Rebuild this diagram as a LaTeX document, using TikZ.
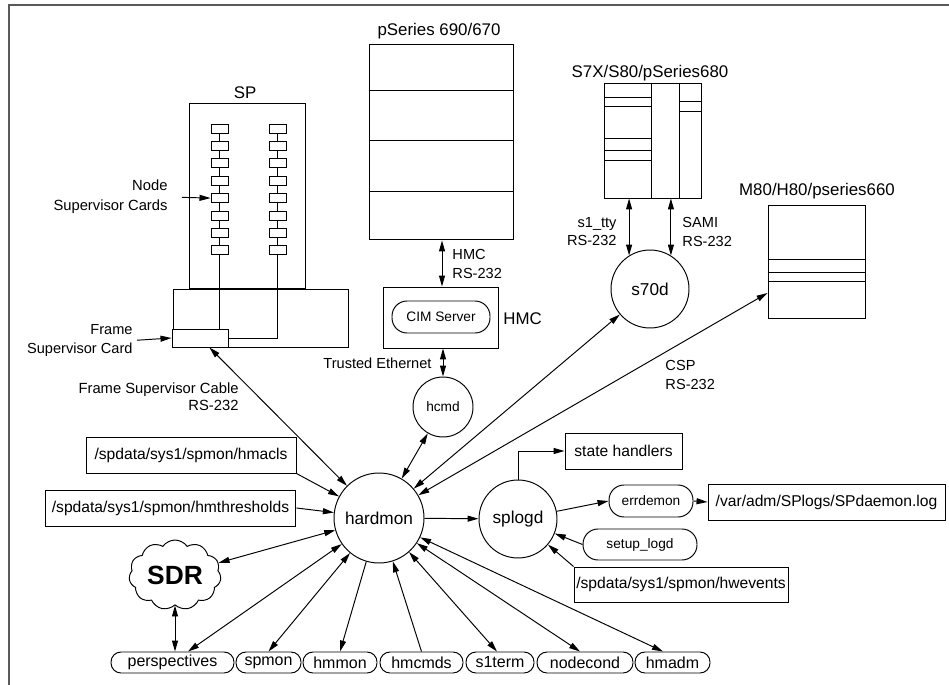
\documentclass[tikz,border=0pt]{standalone}
\usepackage{fontspec}
\setmainfont{Liberation Sans}
\usetikzlibrary{arrows.meta,shapes.symbols}

\begin{document}
\begin{tikzpicture}[x=0.02cm,y=-0.02cm,line width=0.55pt,
	>={Triangle[length=2.2mm,width=1.2mm]},
	box/.style={draw,rectangle,inner sep=0,font=\fontsize{8.9}{10}\selectfont},
	pill/.style={draw,rectangle,rounded corners=0.2cm,inner sep=0,minimum height=0.42cm,font=\fontsize{9.1}{10}\selectfont},
	tag/.style={draw,rectangle,rounded corners=0.3cm,inner sep=0,font=\fontsize{7.8}{9}\selectfont},
	daemon/.style={draw,circle,inner sep=0,font=\fontsize{9.8}{11}\selectfont},
	ttl/.style={inner sep=0,font=\fontsize{9.6}{11}\selectfont},
	lbl/.style={inner sep=0,font=\fontsize{8.3}{10.3}\selectfont},
	card/.style={draw,fill=white,rectangle,inner sep=0,minimum width=0.34cm,minimum height=0.18cm}]

	\useasboundingbox (0,0) rectangle (949,685);
	\draw[gray!70!black,line width=1.1pt] (949,5) -- (9,5) -- (9,685);

	% SP frame
	\node[ttl] (sptitle) at (245,93) {SP};
	\node[box,minimum width=2.32cm,minimum height=3.72cm] (spbox) at (247,196) {};
	\node[box,minimum width=3.5cm,minimum height=1.16cm] (frame) at (260.5,318) {};
	\node[box,fill=white,minimum width=1.12cm,minimum height=0.36cm] (fsc) at (200,338) {};
	\foreach \i in {1,...,8} {
		\node[card] (l\i) at (219.5,{128.5+17.4*(\i-1)}) {};
		\node[card] (r\i) at (277.5,{128.5+17.4*(\i-1)}) {};
	}
	\foreach \i [count=\j from 2] in {1,...,7} {
		\draw (l\i) -- (l\j);
		\draw (r\i) -- (r\j);
	}
	\draw (l8) -- (l8 |- fsc.north);
	\draw (r8) |- (fsc.east);

	\node[lbl,align=right,anchor=east,font=\fontsize{8.4}{11.3}\selectfont] (nsclbl) at (168,197) {Node\\Supervisor Cards};
	\node[lbl,align=right,anchor=east] (fsclbl) at (133,340.5) {Frame\\Supervisor Card};
	\node[lbl,align=right,anchor=east,font=\fontsize{8.4}{9.6}\selectfont] (cablelbl) at (239,396.5) {Frame Supervisor Cable\\RS-232};
	\draw[->,shorten <=0.28cm] (nsclbl.east) -- (l5.west);
	\draw[->,shorten <=0.08cm] (fsclbl.east) -- (fsc.west);

	% pSeries 690/670 and HMC
	\node[ttl] (pstitle) at (439,31) {pSeries 690/670};
	\node[box,minimum width=2.88cm,minimum height=3.92cm] (psbox) at (441,142) {};
	\foreach \y in {90,140,191}
		\draw (psbox.west |- 0,\y) -- (psbox.east |- 0,\y);
	\node[box,minimum width=2.3cm,minimum height=1.22cm] (hmcbox) at (440.5,317.5) {};
	\node[tag,minimum width=1.96cm,minimum height=0.64cm] (cim) at (441,317) {CIM Server};
	\node[ttl,anchor=west] (hmclbl) at (503,319) {HMC};
	\node[daemon,minimum size=1.2cm,font=\fontsize{7.8}{9}\selectfont] (hcmd) at (443,407) {hcmd};

	\path[<->] (psbox.south -| 442,0) edge (hmcbox.north -| 442,0);
	\node[lbl,align=left,anchor=west] (hmcrs) at (452,264) {HMC\\RS-232};
	\path[<->] (hcmd.north |- hmcbox.south) edge (hcmd.north);
	\node[lbl,anchor=east] (ethlbl) at (432,363) {Trusted Ethernet};

	% S7X/S80/pSeries680
	\node[ttl] (s7xtitle) at (650,73) {S7X/S80/pSeries680};
	\node[box,minimum width=1.94cm,minimum height=2.3cm] (s7x) at (652.5,140.5) {};
	\draw (651,83) -- (651,198);
	\draw (679,83) -- (679,198);
	\foreach \y in {97,106,138,150,160}
		\draw (604,\y) -- (651,\y);
	\foreach \y in {101,111}
		\draw (679,\y) -- (701,\y);
	\node[daemon,minimum size=1.56cm] (s70d) at (650,289) {s70d};
	\path[<->] (s70d.122.5 |- s7x.south) edge (s70d.122.5);
	\path[<->] (s70d.58.8 |- s7x.south) edge (s70d.58.8);
	\node[lbl,align=right,anchor=east] (ttylbl) at (617,232) {s1\_tty\\RS-232};
	\node[lbl,align=left,anchor=west] (samilbl) at (682,232) {SAMI\\RS-232};

	% M80/H80/pseries660
	\node[ttl] (m80title) at (817,191) {M80/H80/pseries660};
	\node[box,minimum width=1.94cm,minimum height=2.26cm] (m80) at (816.5,261.5) {};
	\foreach \y in {259,272,281}
		\draw (m80.west |- 0,\y) -- (m80.east |- 0,\y);
	\node[lbl,align=left,anchor=west] (csplbl) at (665,375) {CSP\\RS-232};

	% hardmon and splogd
	\node[daemon,minimum size=1.8cm] (hardmon) at (379,518) {hardmon};
	\node[daemon,minimum size=1.56cm] (splogd) at (518,519) {splogd};

	\node[box,minimum width=4.2cm,minimum height=0.72cm] (hmacls) at (191,455) {/spdata/sys1/spmon/hmacls};
	\node[box,minimum width=5.02cm,minimum height=0.72cm] (hmthresh) at (170.5,508) {/spdata/sys1/spmon/hmthresholds};
	\node[draw,cloud,cloud puffs=11,cloud puff arc=110,cloud ignores aspect,minimum width=1.84cm,minimum height=1.4cm,inner sep=0,font=\fontsize{15}{17}\selectfont\bfseries] (sdr) at (175,575) {SDR};

	\node[box,minimum width=2.34cm,minimum height=0.72cm] (states) at (623.5,451) {state handlers};
	\node[tag,minimum width=1.68cm,minimum height=0.64cm] (errdemon) at (651,501) {errdemon};
	\node[box,minimum width=4.74cm,minimum height=0.72cm] (splog) at (826.5,502) {/var/adm/SPlogs/SPdaemon.log};
	\node[tag,minimum width=2.28cm,minimum height=0.62cm] (setup) at (640,544.5) {setup\_logd};
	\node[box,minimum width=4.28cm,minimum height=0.7cm] (hwevents) at (681,584.5) {/spdata/sys1/spmon/hwevents};

	% commands
	\node[pill,minimum width=2.46cm] (persp) at (172.5,662.5) {perspectives};
	\node[pill,minimum width=1.3cm] (spmon) at (268.5,662.5) {spmon};
	\node[pill,minimum width=1.48cm] (hmmon) at (340,662.5) {hmmon};
	\node[pill,minimum width=1.66cm] (hmcmds) at (421.5,662.5) {hmcmds};
	\node[pill,minimum width=1.36cm] (s1term) at (500,662.5) {s1term};
	\node[pill,minimum width=1.92cm] (nodecond) at (585,662.5) {nodecond};
	\node[pill,minimum width=1.5cm] (hmadm) at (672.5,662.5) {hmadm};

	\path[<->] (fsc) edge (hardmon);
	\path[<->] (hcmd) edge (hardmon);
	\path[<->] (hardmon) edge (s70d);
	\path[<->] (hardmon) edge ([yshift=-0.63cm]m80.west);
	\path[->] (hmacls.south east) edge (hardmon);
	\path[->] (hmthresh.east) edge (hardmon);
	\path[<->] (hardmon) edge (sdr);
	\path[<->] (sdr.south) edge (sdr.south |- persp.north);
	\path[->] (hardmon) edge (splogd);

	\path[<->] (hardmon) edge ([xshift=0.31cm]persp.north);
	\path[<->] (hardmon) edge (spmon.north);
	\path[->] (hardmon) edge (hmmon.north);
	\path[->] (hmcmds.north) edge (hardmon);
	\path[<->] (hardmon) edge ([xshift=-0.06cm]s1term.north);
	\path[<->] (hardmon) edge ([xshift=-0.1cm]nodecond.north);
	\path[<->] (hardmon) edge ([xshift=-0.19cm]hmadm.north);

	\draw[->] (splogd.north) |- (states.west);
	\path[->] (splogd) edge (errdemon.west);
	\path[->] (errdemon.east) edge (splog.west);
	\path[->] (setup.west) edge (splogd);
	\path[->] (hwevents.north west) edge (splogd);

\end{tikzpicture}
\end{document}
